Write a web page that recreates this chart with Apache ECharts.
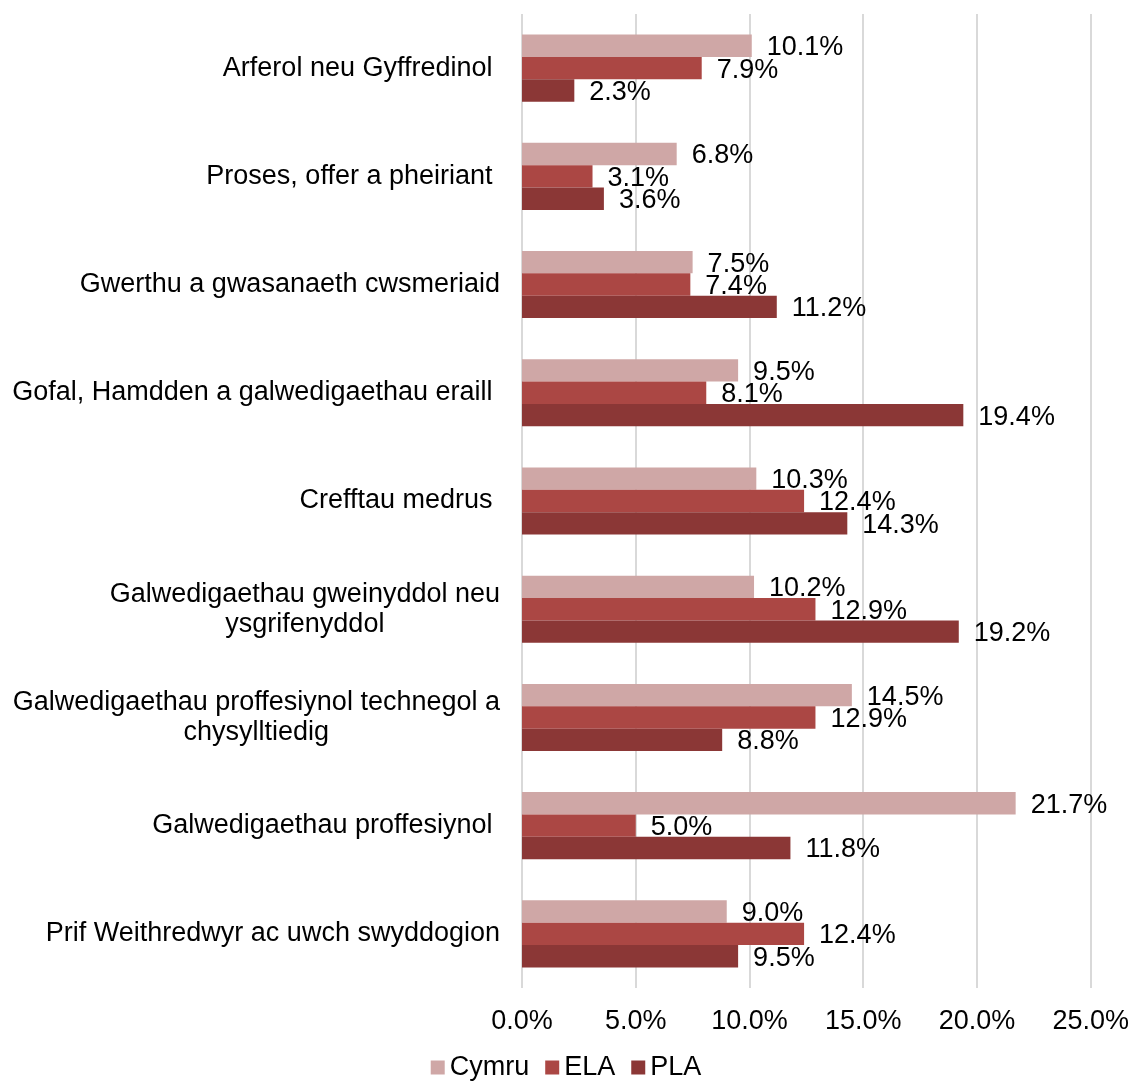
<!DOCTYPE html>
<html>
<head>
<meta charset="utf-8">
<script src="https://cdn.jsdelivr.net/npm/echarts@6/dist/echarts.min.js"></script>
<style>
  html, body { margin: 0; padding: 0; background: #fff; }
  #chart-panel { width: 1132px; height: 1084px; }
</style>
</head>
<body>
<div id="chart-panel"></div>
<script>
const categories = [
  "Arferol neu Gyffredinol ",
  "Proses, offer a pheiriant ",
  "Gwerthu a gwasanaeth cwsmeriaid",
  "Gofal, Hamdden a galwedigaethau eraill ",
  "Crefftau medrus ",
  "Galwedigaethau gweinyddol neu\nysgrifenyddol",
  "Galwedigaethau proffesiynol technegol a\nchysylltiedig",
  "Galwedigaethau proffesiynol ",
  "Prif Weithredwyr ac uwch swyddogion"
]
const seriesNames = ["Cymru", "ELA", "PLA"]
const cymru = [10.1, 6.8, 7.5, 9.5, 10.3, 10.2, 14.5, 21.7, 9.0]
const ela = [7.9, 3.1, 7.4, 8.1, 12.4, 12.9, 12.9, 5.0, 12.4]
const pla = [2.3, 3.6, 11.2, 19.4, 14.3, 19.2, 8.8, 11.8, 9.5]
const xTicks = [0, 5, 10, 15, 20, 25]

const color = ["#cfa7a6", "#ab4744", "#8b3736"]
const font = "Liberation Sans, Arial, sans-serif"
const fs = 27

const chart = echarts.init(document.getElementById("chart-panel"), null, { renderer: "canvas" })

const data = [cymru, ela, pla].map((d, i) => {
  return {
    name: seriesNames[i],
    type: "bar",
    data: d,
    barCategoryGap: "38%",
    barGap: "0%",
    itemStyle: { color: color[i] },
    label: {
      show: true,
      position: "right",
      distance: 15,
      offset: [0, 2],
      color: "#000",
      fontSize: fs,
      fontFamily: font,
      formatter: (p) => p.value.toFixed(1) + "%"
    }
  }
})

const options = {
  animation: false,
  color: color,
  grid: {
    left: 522,
    right: 40,
    top: 14,
    bottom: 96
  },
  legend: {
    data: seriesNames,
    top: 1054,
    left: "center",
    padding: 0,
    itemWidth: 14,
    itemHeight: 14,
    itemGap: 16,
    icon: "rect",
    textStyle: { color: "#000", fontSize: fs, fontFamily: font }
  },
  xAxis: {
    type: "value",
    min: xTicks[0],
    max: xTicks[xTicks.length - 1],
    interval: 5,
    axisLine: { show: false },
    axisTick: { show: false },
    splitLine: { show: true, lineStyle: { color: "#d9d9d9", width: 2 } },
    axisLabel: {
      margin: 20,
      color: "#000",
      fontSize: fs,
      fontFamily: font,
      formatter: (v) => v.toFixed(1) + "%"
    }
  },
  yAxis: {
    type: "category",
    inverse: true,
    data: categories,
    axisLine: { show: false },
    axisTick: { show: false },
    axisLabel: {
      margin: 22,
      color: "#000",
      fontSize: fs,
      fontFamily: font,
      lineHeight: 30,
      formatter: (v) => v.indexOf("\n") > -1 ? v.split("\n").map(s => "{c|" + s + "}").join("\n") : v,
      rich: {
        c: { align: "center", fontSize: fs, fontFamily: font, color: "#000", lineHeight: 30 }
      }
    }
  },
  series: data
}
chart.setOption(options)
</script>
</body>
</html>
